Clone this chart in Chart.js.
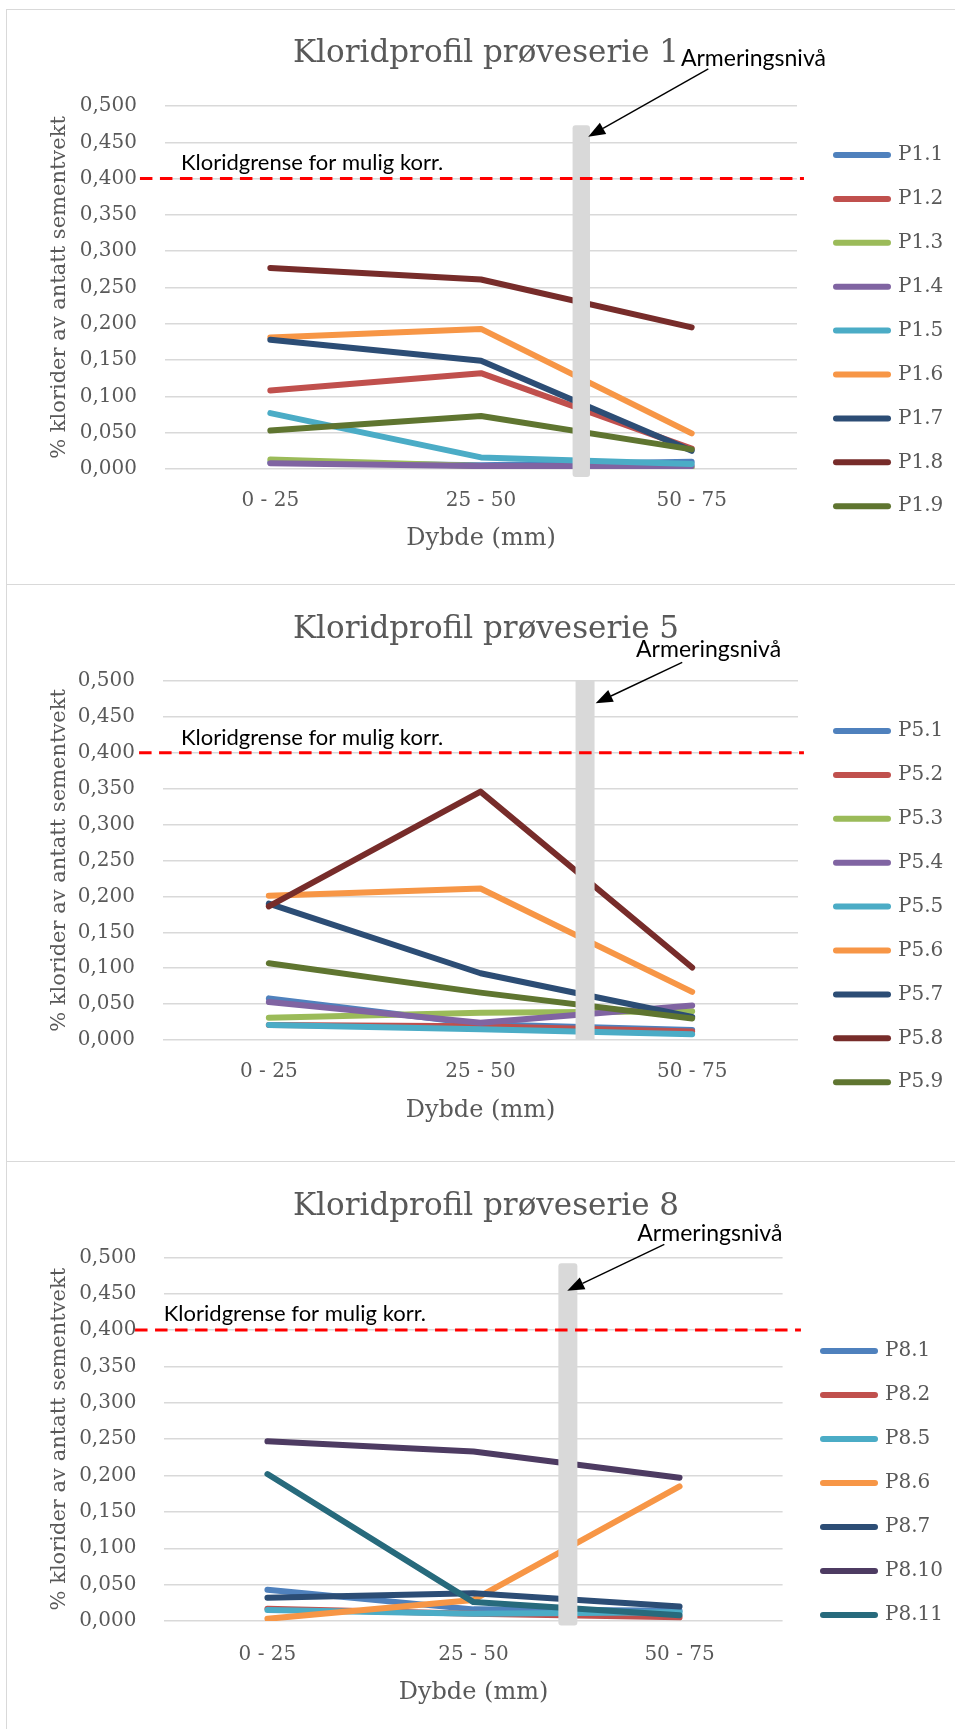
<!DOCTYPE html>
<html>
<head>
<meta charset="utf-8">
<title>Kloridprofiler</title>
<script src="https://cdn.jsdelivr.net/npm/chart.js@4.4.1/dist/chart.umd.min.js"></script>
<style>
  html, body { margin: 0; padding: 0; background: #fff; overflow: hidden; width: 955px; height: 1729px; }
  .panel { position: absolute; left: 6px; width: 1000px; background: #fff;
           border-top: 1px solid #d9d9d9; border-left: 1px solid #d9d9d9; }
  .panel canvas { position: absolute; left: 0; top: 0; }
</style>
</head>
<body>
<div class="panel" style="top:9px;height:575px"><canvas id="c1" width="955" height="574"></canvas></div>
<div class="panel" style="top:584px;height:576px"><canvas id="c2" width="955" height="576"></canvas></div>
<div class="panel" style="top:1161px;height:600px"><canvas id="c3" width="955" height="567"></canvas></div>
<script>
// Depth intervals (x categories)
const depthLabels = ['0 - 25', '25 - 50', '50 - 75'];

// Series 1 (% chloride of assumed cement weight)
const P1_1 = [0.009, 0.005, 0.010];
const P1_2 = [0.108, 0.132, 0.028];
const P1_3 = [0.013, 0.004, 0.002];
const P1_4 = [0.008, 0.004, 0.004];
const P1_5 = [0.077, 0.016, 0.007];
const P1_6 = [0.181, 0.193, 0.049];
const P1_7 = [0.178, 0.149, 0.025];
const P1_8 = [0.277, 0.261, 0.195];
const P1_9 = [0.053, 0.073, 0.027];

// Series 5
const P5_1 = [0.058, 0.022, 0.014];
const P5_2 = [0.021, 0.019, 0.012];
const P5_3 = [0.031, 0.038, 0.040];
const P5_4 = [0.053, 0.024, 0.048];
const P5_5 = [0.021, 0.015, 0.008];
const P5_6 = [0.201, 0.211, 0.067];
const P5_7 = [0.190, 0.093, 0.032];
const P5_8 = [0.186, 0.346, 0.101];
const P5_9 = [0.107, 0.066, 0.030];

// Series 8
const P8_1  = [0.043, 0.016, 0.014];
const P8_2  = [0.017, 0.010, 0.005];
const P8_5  = [0.015, 0.010, 0.012];
const P8_6  = [0.003, 0.029, 0.185];
const P8_7  = [0.032, 0.038, 0.020];
const P8_10 = [0.247, 0.233, 0.197];
const P8_11 = [0.202, 0.026, 0.008];

const names1 = ['P1.1','P1.2','P1.3','P1.4','P1.5','P1.6','P1.7','P1.8','P1.9'];
const names5 = ['P5.1','P5.2','P5.3','P5.4','P5.5','P5.6','P5.7','P5.8','P5.9'];
const names8 = ['P8.1','P8.2','P8.5','P8.6','P8.7','P8.10','P8.11'];

const values1 = [P1_1, P1_2, P1_3, P1_4, P1_5, P1_6, P1_7, P1_8, P1_9];
const values5 = [P5_1, P5_2, P5_3, P5_4, P5_5, P5_6, P5_7, P5_8, P5_9];
const values8 = [P8_1, P8_2, P8_5, P8_6, P8_7, P8_10, P8_11];

// Chloride threshold and axis range
const chlorideLimit = 0.4;
const yMin = 0, yMax = 0.5, yStep = 0.05;

// Office palette
const palette9 = ['#4F81BD','#C0504D','#9BBB59','#8064A2','#4BACC6','#F79646','#2C4D75','#772C2A','#5F7530'];
const palette8 = ['#4F81BD','#C0504D','#4BACC6','#F79646','#2C4D75','#4D3B62','#276A7C'];

const AXIS_GREY = '#595959';
const GRID_GREY = '#d9d9d9';
const LINE_W = 6;
const SERIF = '"DejaVu Serif", serif';

Chart.defaults.font.family = SERIF;
Chart.defaults.color = AXIS_GREY;

// Reinforcement-level marker, threshold line, notes and arrow
const notesPlugin = {
  id: 'panelNotes',
  afterLayout(chart, args, o) {
    const lg = chart.legend;
    const lab = chart.options.plugins.legend.labels;
    if (lg) {
      lg.left = o.legendX - lab.padding;
      lg.width = 300;
      lg.right = lg.left + lg.width;
      lg.top = o.legendY - lab.padding - lab.font.size / 2;
      lg.height = 1000;
      lg.bottom = lg.top + lg.height;
    }
    const tb = chart.titleBlock;
    if (tb) {
      const w = tb.right - tb.left;
      tb.left = o.titleX - w / 2;
      tb.right = tb.left + w;
    }
  },
  afterDatasetsDraw(chart, args, o) {
    const {ctx, scales: {x, y}} = chart;
    const px = v => x.getPixelForValue(v);
    const py = v => y.getPixelForValue(v);
    ctx.save();

    // grey reinforcement band
    const bx = px(o.rebarIndex);
    const bt = py(o.rebarTop), bb = py(o.rebarBottom);
    ctx.fillStyle = GRID_GREY;
    ctx.beginPath();
    ctx.roundRect(bx - o.rebarHalfWidth, bt, o.rebarHalfWidth * 2, bb - bt, o.rebarRadius);
    ctx.fill();

    // red dashed chloride threshold
    ctx.strokeStyle = '#ff0000';
    ctx.lineWidth = 3;
    ctx.setLineDash([12.5, 7.5]);
    ctx.beginPath();
    ctx.moveTo(px(o.limitFrom), py(chlorideLimit));
    ctx.lineTo(px(o.limitTo), py(chlorideLimit));
    ctx.stroke();
    ctx.setLineDash([]);

    // notes
    ctx.fillStyle = '#000';
    ctx.textAlign = 'left';
    ctx.textBaseline = 'alphabetic';
    ctx.font = '22px Lato';
    ctx.fillText(o.limitText, px(o.limitTextAt[0]), py(o.limitTextAt[1]));
    ctx.font = '23px Lato';
    ctx.fillText(o.rebarText, px(o.rebarTextAt[0]), py(o.rebarTextAt[1]));

    // arrow pointing at the band
    const x0 = px(o.arrowFrom[0]), y0 = py(o.arrowFrom[1]);
    const x1 = px(o.arrowTo[0]), y1 = py(o.arrowTo[1]);
    const ang = Math.atan2(y1 - y0, x1 - x0);
    const headL = 17, headW = 6.5;
    const bxh = x1 - Math.cos(ang) * headL, byh = y1 - Math.sin(ang) * headL;
    ctx.strokeStyle = '#000';
    ctx.lineWidth = 1.4;
    ctx.beginPath();
    ctx.moveTo(x0, y0);
    ctx.lineTo(bxh, byh);
    ctx.stroke();
    ctx.fillStyle = '#000';
    ctx.beginPath();
    ctx.moveTo(x1, y1);
    ctx.lineTo(bxh + Math.sin(ang) * headW, byh - Math.cos(ang) * headW);
    ctx.lineTo(bxh - Math.sin(ang) * headW, byh + Math.cos(ang) * headW);
    ctx.closePath();
    ctx.fill();

    ctx.restore();
  }
};

function buildChart(canvasId, title, names, values, colors, g, notes) {
  const datasets = names.map((name, i) => ({
    label: name,
    data: values[i],
    borderColor: colors[i],
    backgroundColor: colors[i],
    borderWidth: LINE_W,
    borderCapStyle: 'round',
    borderJoinStyle: 'round',
    pointRadius: 0,
    pointHoverRadius: 0,
    tension: 0,
    fill: false,
    order: -i
  }));

  return new Chart(document.getElementById(canvasId), {
    type: 'line',
    data: { labels: depthLabels, datasets },
    plugins: [notesPlugin],
    options: {
      responsive: false,
      animation: false,
      devicePixelRatio: 1,
      layout: { padding: { left: 0, top: 0, right: g.padRight, bottom: g.padBottom } },
      plugins: {
        title: {
          display: true,
          text: title,
          color: AXIS_GREY,
          font: { family: SERIF, size: 31, weight: 'normal', lineHeight: 1.2 },
          padding: { top: g.titleTop, bottom: g.titleBottom }
        },
        legend: {
          display: true,
          position: 'right',
          align: 'start',
          reverse: true,
          maxWidth: 120,
          labels: {
            usePointStyle: true,
            pointStyle: 'line',
            pointStyleWidth: 52,
            color: AXIS_GREY,
            font: { family: SERIF, size: 20 },
            padding: g.legendPad,
            generateLabels(chart) {
              return Chart.defaults.plugins.legend.labels.generateLabels(chart).map(it => ({
                ...it,
                lineCap: 'round',
                lineWidth: LINE_W,
                strokeStyle: chart.data.datasets[it.datasetIndex].borderColor
              }));
            }
          }
        },
        tooltip: { enabled: false },
        panelNotes: Object.assign({ titleX: 479, legendX: g.legendX, legendY: g.legendY }, notes)
      },
      scales: {
        x: {
          type: 'category',
          offset: true,
          grid: { display: false, drawTicks: false },
          border: { display: false },
          ticks: { color: AXIS_GREY, font: { family: SERIF, size: 20, lineHeight: 1.2 }, padding: g.xTickPad, maxRotation: 0, autoSkip: false },
          title: {
            display: true, text: 'Dybde (mm)', color: AXIS_GREY,
            font: { family: SERIF, size: 24, lineHeight: 1.2 }, padding: { top: 0, bottom: 0 }
          },
          afterFit(s) { s.height = g.xAxisH; }
        },
        y: {
          min: yMin, max: yMax,
          grid: { color: GRID_GREY, lineWidth: 1.5, drawTicks: false },
          border: { display: false },
          ticks: {
            stepSize: yStep, color: AXIS_GREY, font: { family: SERIF, size: 20, lineHeight: 1.2 }, padding: 28,
            autoSkip: false,
            callback: v => v.toFixed(3).replace('.', ',')
          },
          title: {
            display: true, text: '% klorider av antatt sementvekt', color: AXIS_GREY,
            font: { family: SERIF, size: 21, lineHeight: 1.2 }, padding: { top: 40, bottom: 0 }
          },
          afterFit(s) { s.width = g.yAxisW; }
        }
      }
    }
  });
}

buildChart('c1', 'Kloridprofil prøveserie 1', names1, values1, palette9,
  { padRight: 45, padBottom: 30.7, titleTop: 25.5, titleBottom: 33.3, xTickPad: 19.9, xAxisH: 84.3,
    yAxisW: 158, legendX: 829, legendY: 145, legendPad: 23.9 },
  { rebarIndex: 1.476, rebarHalfWidth: 8.7, rebarTop: 0.4734, rebarBottom: -0.011, rebarRadius: 3,
    limitFrom: -0.619, limitTo: 2.533,
    limitText: 'Kloridgrense for mulig korr.', limitTextAt: [-0.424, 0.4118],
    rebarText: 'Armeringsnivå', rebarTextAt: [1.949, 0.555],
    arrowFrom: [2.079, 0.551], arrowTo: [1.509, 0.4577] });

buildChart('c2', 'Kloridprofil prøveserie 5', names5, values5, palette9,
  { padRight: 44, padBottom: 35.7, titleTop: 26.4, titleBottom: 32.4, xTickPad: 20, xAxisH: 85.3,
    yAxisW: 156, legendX: 829, legendY: 146, legendPad: 23.9 },
  { rebarIndex: 1.494, rebarHalfWidth: 9.5, rebarTop: 0.5, rebarBottom: 0, rebarRadius: 0,
    limitFrom: -0.613, limitTo: 2.528,
    limitText: 'Kloridgrense for mulig korr.', limitTextAt: [-0.415, 0.411],
    rebarText: 'Armeringsnivå', rebarTextAt: [1.735, 0.533],
    arrowFrom: [1.953, 0.526], arrowTo: [1.544, 0.469] });

buildChart('c3', 'Kloridprofil prøveserie 8', names8, values8, palette8,
  { padRight: 59.4, padBottom: 22.2, titleTop: 26.4, titleBottom: 31.7, xTickPad: 21.4, xAxisH: 85.8,
    yAxisW: 157.4, legendX: 816, legendY: 189, legendPad: 24 },
  { rebarIndex: 1.458, rebarHalfWidth: 9.5, rebarTop: 0.4917, rebarBottom: -0.0063, rebarRadius: 3,
    limitFrom: -0.6425, limitTo: 2.589,
    limitText: 'Kloridgrense for mulig korr.', limitTextAt: [-0.503, 0.4124],
    rebarText: 'Armeringsnivå', rebarTextAt: [1.795, 0.5224],
    arrowFrom: [1.926, 0.5179], arrowTo: [1.455, 0.4541] });
</script>
</body>
</html>
